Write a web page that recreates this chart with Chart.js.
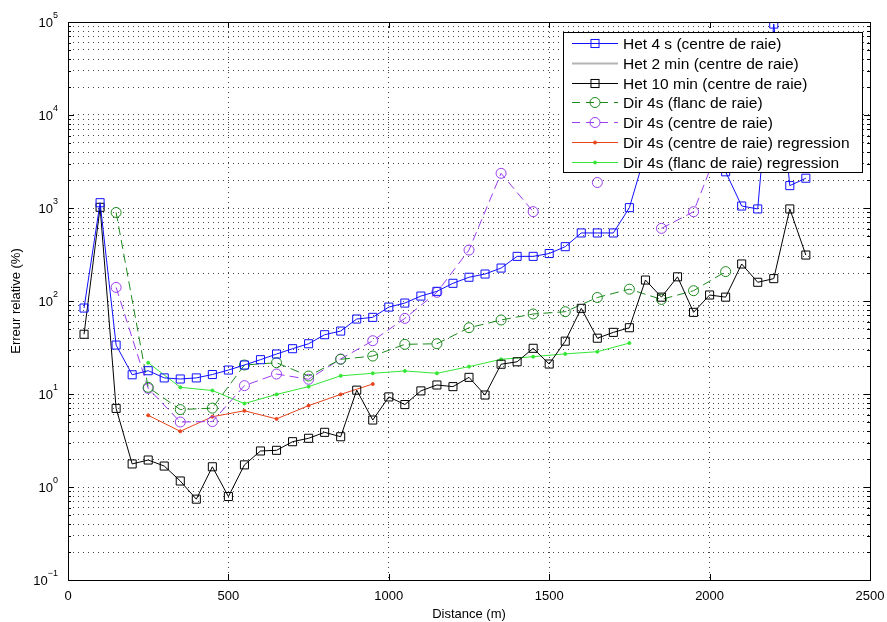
<!DOCTYPE html>
<html>
<head>
<meta charset="utf-8">
<script src="https://cdn.jsdelivr.net/npm/chart.js@4/dist/chart.umd.min.js"></script>
<style>
  html, body { margin: 0; padding: 0; background: #fff; }
  #wrap { width: 887px; height: 622px; }
</style>
</head>
<body>
<div id="wrap"><canvas id="chart" width="887" height="622"></canvas></div>
<script>
// Distances (m)
const xHet = [50, 100, 150, 200, 250, 300, 350, 400, 450, 500, 550, 600, 650, 700, 750, 800, 850, 900, 950, 1000,
  1050, 1100, 1150, 1200, 1250, 1300, 1350, 1400, 1450, 1500, 1550, 1600, 1650, 1700, 1750, 1800, 1850, 1900, 1950, 2000,
  2050, 2100, 2150, 2200, 2250, 2300];
const xDir = [150, 250, 350, 450, 550, 650, 750, 850, 950, 1050, 1150, 1250, 1350, 1450, 1550, 1650, 1750, 1850, 1950, 2050];
const xRegCentre = [250, 350, 450, 550, 650, 750, 850, 950];
const xRegFlanc = [250, 350, 450, 550, 650, 750, 850, 950, 1050, 1150, 1250, 1350, 1450, 1550, 1650, 1750];

// Erreur relative (%)
const het4s = [84, 1140, 33.6, 16.1, 17.8, 14.9, 14.5, 14.9, 16.2, 18.1, 20.5, 23.4, 26.9, 30.7, 34.7, 43.4, 47.5, 64, 66.7, 86,
  95, 113, 127, 155, 180, 195, 226, 302, 302, 324, 384, 539, 539, 539, 1009, 3900, 5000, 8000, 6000, 4000,
  2450, 1050, 977, 95000, 1740, 2090];
const het2min = [];
const het10min = [43.9, 1017, 7.0, 1.77, 1.95, 1.68, 1.16, 0.74, 1.65, 0.79, 1.73, 2.44, 2.48, 3.07, 3.34, 3.87, 3.47, 11.0, 5.25, 9.3,
  7.7, 10.8, 12.5, 12.0, 15.1, 9.75, 20.9, 22.2, 31, 21, 37, 83.4, 39.8, 46, 51.6, 168, 110, 182, 75.5, 116,
  110, 250, 159, 174, 977, 312];
const dirFlanc = [895, 11.8, 6.8, 7.05, 20.5, 21.7, 15.6, 23.6, 25.6, 34.2, 34.7, 51.6, 62.5, 72.5, 76.7, 109, 134, 104, 129, 207];
const dirCentre = [140, 11.5, 5.0, 5.05, 12.3, 16.4, 14.4, 23.8, 37.4, 65, 124, 353, 2360, 913, null, 1880, null, 604, 912, 7000];
const regCentre = [5.9, 3.97, 5.7, 6.6, 5.4, 7.5, 9.9, 12.8];
const regFlanc = [21.7, 11.8, 10.9, 7.9, 9.9, 12.0, 15.7, 16.7, 17.7, 16.7, 19.7, 23.6, 25.2, 27, 28.5, 35.3];

const yDecades = [-1, 0, 1, 2, 3, 4, 5];
const xTicks = [0, 500, 1000, 1500, 2000, 2500];

const FONT = 'Liberation Sans, Arial, Helvetica, sans-serif';

function pts(xs, ys) {
    return xs.map((x, i) => ({ x: x, y: ys[i] }));
}

function series(label, xs, ys, color, opts) {
    return Object.assign({
        label: label,
        data: pts(xs, ys),
        borderColor: color,
        backgroundColor: 'transparent',
        pointBorderColor: color,
        pointBackgroundColor: 'transparent',
        borderWidth: 1,
        pointBorderWidth: 1,
        pointRadius: 0,
        pointStyle: 'circle',
        spanGaps: false,
        tension: 0
    }, opts);
}

const datasets = [
    series('Het 4 s (centre de raie)', xHet, het4s, '#1010ff', { pointStyle: 'rect', pointRadius: 5.7 }),
    series('Het 2 min (centre de raie)', [], het2min, '#b4b4b4', { borderWidth: 2 }),
    series('Het 10 min (centre de raie)', xHet, het10min, '#000000', { pointStyle: 'rect', pointRadius: 5.7 }),
    series('Dir 4s (flanc de raie)', xDir, dirFlanc, '#1b8a1b', { pointRadius: 5, borderDash: [9, 5] }),
    series('Dir 4s (centre de raie)', xDir, dirCentre, '#9a3cf0', { pointRadius: 5, borderDash: [9, 5] }),
    series('Dir 4s (centre de raie) regression', xRegCentre, regCentre, '#e8441c', { pointRadius: 1.5, pointBackgroundColor: '#e8441c' }),
    series('Dir 4s (flanc de raie) regression', xRegFlanc, regFlanc, '#33e633', { pointRadius: 1.5, pointBackgroundColor: '#33e633' })
];

// Box, inward ticks, y labels with exponents, legend
const matlabFrame = {
    id: 'matlabFrame',
    afterDraw(chart) {
        const ctx = chart.ctx;
        const a = chart.chartArea;
        const xs = chart.scales.x;
        const ys = chart.scales.y;
        ctx.save();

        // inward tick marks
        ctx.strokeStyle = '#000';
        ctx.lineWidth = 1;
        ctx.beginPath();
        ys.ticks.forEach(t => {
            const y = Math.round(ys.getPixelForValue(t.value)) + 0.5;
            const major = Math.abs(Math.log10(t.value) - Math.round(Math.log10(t.value))) < 1e-6;
            const len = major ? 6 : 3;
            ctx.moveTo(a.left, y); ctx.lineTo(a.left + len, y);
            ctx.moveTo(a.right, y); ctx.lineTo(a.right - len, y);
        });
        xTicks.forEach(v => {
            const x = Math.round(xs.getPixelForValue(v)) + 0.5;
            ctx.moveTo(x, a.bottom); ctx.lineTo(x, a.bottom - 6);
            ctx.moveTo(x, a.top); ctx.lineTo(x, a.top + 6);
        });
        ctx.stroke();

        // frame
        ctx.strokeRect(Math.round(a.left) + 0.5, Math.round(a.top) + 0.5,
            Math.round(a.right - a.left), Math.round(a.bottom - a.top));

        // y labels 10^k
        ctx.fillStyle = '#000';
        ctx.textBaseline = 'middle';
        yDecades.forEach(k => {
            const y = ys.getPixelForValue(Math.pow(10, k));
            const exp = k < 0 ? '\u2212' + Math.abs(k) : String(k);
            ctx.font = '9px ' + FONT;
            const ew = ctx.measureText(exp).width;
            const right = a.left - 10;
            ctx.textAlign = 'left';
            ctx.fillText(exp, right - ew, y - 6);
            ctx.font = '13px ' + FONT;
            ctx.textAlign = 'right';
            ctx.fillText('10', right - ew, y + 1);
        });

        // legend
        const lx = 563, ly = 32, lw = 299, lh = 140;
        ctx.fillStyle = '#fff';
        ctx.fillRect(lx, ly, lw, lh);
        ctx.strokeStyle = '#000';
        ctx.strokeRect(lx + 0.5, ly + 0.5, lw, lh);
        ctx.font = '15.5px ' + FONT;
        ctx.textAlign = 'left';
        ctx.textBaseline = 'middle';
        chart.data.datasets.forEach((ds, i) => {
            const y = Math.round(ly + 11 + i * 19.8) + 0.5;
            ctx.strokeStyle = ds.borderColor;
            ctx.lineWidth = ds.borderWidth;
            ctx.setLineDash(ds.borderDash ? [8, 6] : []);
            ctx.beginPath();
            ctx.moveTo(572, y); ctx.lineTo(618, y);
            ctx.stroke();
            ctx.setLineDash([]);
            ctx.lineWidth = 1;
            const cx = 595;
            if (ds.pointRadius > 0) {
                if (ds.pointStyle === 'rect') {
                    const s = Math.SQRT1_2 * ds.pointRadius;
                    ctx.strokeRect(cx - s, y - s, 2 * s, 2 * s);
                } else {
                    ctx.beginPath();
                    ctx.arc(cx, y, ds.pointRadius, 0, Math.PI * 2);
                    if (ds.pointBackgroundColor !== 'transparent') {
                        ctx.fillStyle = ds.pointBackgroundColor;
                        ctx.fill();
                    }
                    ctx.stroke();
                }
            }
            ctx.fillStyle = '#000';
            ctx.fillText(ds.label, 623, y + 1);
        });
        ctx.restore();
    }
};

new Chart(document.getElementById('chart'), {
    type: 'line',
    data: { datasets: datasets },
    options: {
        responsive: false,
        animation: false,
        devicePixelRatio: 1,
        layout: { padding: { left: 0, right: 17, top: 22, bottom: 0 } },
        plugins: {
            legend: { display: false },
            tooltip: { enabled: false }
        },
        scales: {
            x: {
                type: 'linear',
                min: 0,
                max: 2500,
                afterBuildTicks: s => { s.ticks = xTicks.map(v => ({ value: v })); },
                afterFit: s => { s.height = 42; s.paddingLeft = 0; s.paddingRight = 0; },
                border: { display: false, dash: [1, 4] },
                grid: { color: '#444', drawTicks: false, lineWidth: 1 },
                ticks: { color: '#000', font: { family: FONT, size: 13 }, padding: 9, maxRotation: 0,
                    callback: v => String(v) },
                title: { display: true, text: 'Distance (m)', color: '#000', font: { family: FONT, size: 13 }, padding: { top: 0, bottom: 0 } }
            },
            y: {
                type: 'logarithmic',
                min: 0.1,
                max: 100000,
                afterBuildTicks: s => {
                    const t = [];
                    for (let k = -1; k < 5; k++) {
                        for (let m = 1; m < 10; m++) t.push({ value: m * Math.pow(10, k) });
                    }
                    t.push({ value: 100000 });
                    s.ticks = t;
                },
                afterFit: s => { s.width = 68; s.paddingTop = 0; s.paddingBottom = 0; },
                border: { display: false, dash: [1, 4] },
                grid: { color: '#444', drawTicks: false, lineWidth: 1 },
                ticks: { display: false },
                title: { display: true, text: 'Erreur relative (%)', color: '#000', font: { family: FONT, size: 13 }, padding: { top: 9, bottom: 0 } }
            }
        }
    },
    plugins: [matlabFrame]
});
</script>
</body>
</html>
